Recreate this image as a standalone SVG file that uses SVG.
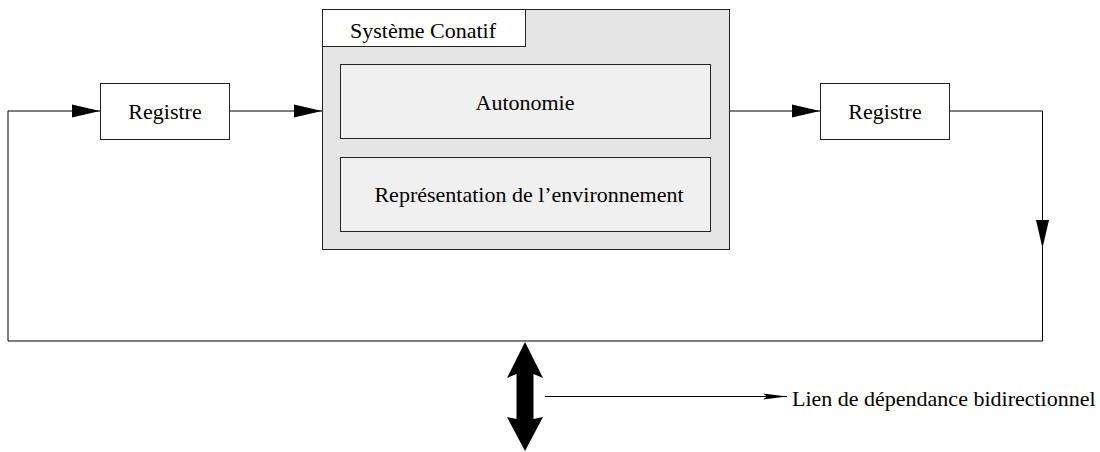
<svg xmlns="http://www.w3.org/2000/svg" width="1100" height="452" viewBox="0 0 1100 452">
  <style>
    .box { stroke: #222; stroke-width: 1; }
    .lbl { font-family: "Liberation Serif", "Times New Roman", serif; font-size: 22px; fill: #000; text-anchor: middle; }
    .wire { fill: none; stroke: #000; stroke-width: 1; }
  </style>
  <defs>
    <marker id="head" markerUnits="userSpaceOnUse" markerWidth="28" markerHeight="14" refX="28" refY="7" orient="auto">
      <polygon points="0,0.5 28,7 0,13.5" fill="#000"/>
    </marker>
    <marker id="headSmall" markerUnits="userSpaceOnUse" markerWidth="24" markerHeight="8" refX="24" refY="4" orient="auto">
      <polygon points="0,1 24,4 0,7 4,4" fill="#000"/>
    </marker>
  </defs>

  <rect width="1100" height="452" fill="#fff"/>

  <!-- connectors -->
  <g id="connectors">
    <line class="wire" x1="229" y1="111" x2="322" y2="111" marker-end="url(#head)"/>
    <line class="wire" x1="729" y1="111" x2="820" y2="111" marker-end="url(#head)"/>
    <polyline class="wire" points="950,111 1042.5,111 1042.5,248" marker-end="url(#head)"/>
    <polyline class="wire" points="1042.5,248 1042.5,341 8,341 8,111 100,111" marker-end="url(#head)"/>
  </g>

  <!-- register in -->
  <g id="registre-entree">
    <rect class="box" x="100.5" y="83.5" width="129" height="56" fill="#fff"/>
    <text class="lbl" x="165" y="119">Registre</text>
  </g>

  <!-- conative system -->
  <g id="systeme-conatif">
    <rect class="box" x="322.5" y="9.5" width="407" height="240" fill="#e5e5e5"/>
    <rect class="box" x="322.5" y="9.5" width="203" height="37" fill="#fff"/>
    <text class="lbl" x="423" y="38">Système Conatif</text>
  </g>
  <g id="autonomie">
    <rect class="box" x="340.5" y="64.5" width="370" height="74" fill="#f0f0f0"/>
    <text class="lbl" x="525" y="110">Autonomie</text>
  </g>
  <g id="representation">
    <rect class="box" x="340.5" y="157.5" width="370" height="74" fill="#f0f0f0"/>
    <text class="lbl" x="529" y="202">Représentation de l’environnement</text>
  </g>

  <!-- register out -->
  <g id="registre-sortie">
    <rect class="box" x="820.5" y="83.5" width="129" height="56" fill="#fff"/>
    <text class="lbl" x="885" y="119">Registre</text>
  </g>

  <!-- legend -->
  <g id="legende">
    <polygon points="525,342 543,378 533.5,374 533.5,419 543,417 525,451 507,417 516.5,419 516.5,374 507,378" fill="#000"/>
    <line class="wire" x1="545" y1="396.5" x2="787" y2="396.5" marker-end="url(#headSmall)"/>
    <text class="lbl" x="792" y="406" style="text-anchor:start">Lien de dépendance bidirectionnel</text>
  </g>
</svg>
